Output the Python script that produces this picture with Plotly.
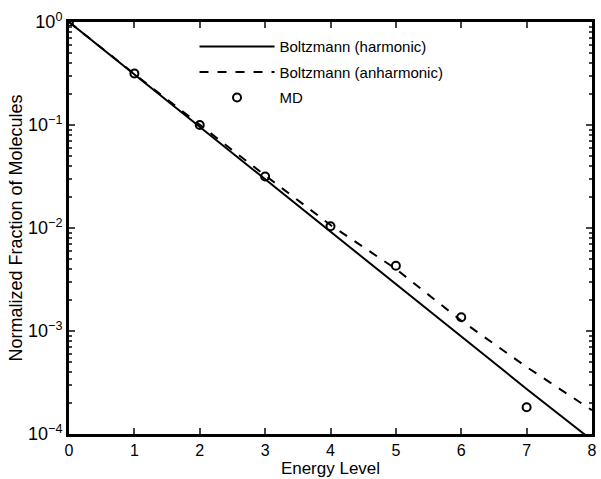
import plotly.graph_objects as go

energy = [0, 1, 2, 3, 4, 5, 6, 7, 8]
harmonic = [1.0, 0.31, 0.096, 0.0298, 0.0092, 0.00286, 0.00088, 0.000274, 8.7e-5]
anharmonic = [1.0, 0.3126, 0.1005, 0.0324, 0.0107, 0.0040, 0.00126, 0.000447, 0.00017]
md_x = [0, 1, 2, 3, 4, 5, 6, 7]
md_y = [1.0, 0.316, 0.1, 0.0316, 0.0104, 0.0043, 0.00136, 0.000182]
ytick_vals = [1e-4, 1e-3, 1e-2, 1e-1, 1]
ytick_text = ["10<sup>−4</sup>", "10<sup>−3</sup>", "10<sup>−2</sup>", "10<sup>−1</sup>", "10<sup>0</sup>"]

fig = go.Figure()
fig.add_trace(go.Scatter(x=energy, y=harmonic, mode="lines", name="Boltzmann (harmonic)",
                         legendgroup="a", line=dict(color="black", width=2)))
fig.add_trace(go.Scatter(x=energy, y=anharmonic, mode="lines", name="Boltzmann (anharmonic)",
                         legendgroup="b", line=dict(color="black", width=2, dash="dash")))
fig.add_trace(go.Scatter(x=md_x, y=md_y, mode="markers", name="MD", legendgroup="c",
                         marker=dict(symbol="circle-open", size=8, color="black", line=dict(width=2))))

font = dict(family="Liberation Sans, Arial, sans-serif", size=15, color="black")
fig.update_layout(
    width=601, height=479,
    margin=dict(l=69, r=4, t=22, b=41),
    paper_bgcolor="white", plot_bgcolor="white",
    font=font,
    showlegend=True,
    legend=dict(x=0.24, y=0.98, xanchor="left", yanchor="top", bgcolor="rgba(0,0,0,0)",
                font=dict(size=15), itemwidth=75, tracegroupgap=3),
    xaxis=dict(range=[0, 8], tickvals=energy, ticks="inside", ticklen=6, tickwidth=2,
               tickfont=dict(size=16),
               showline=True, linewidth=3, linecolor="black", mirror="ticks",
               showgrid=False, zeroline=False,
               title=dict(text="Energy Level", standoff=4, font=dict(size=17))),
    yaxis=dict(type="log", range=[-4, 0], tickvals=ytick_vals, ticktext=ytick_text,
               ticks="inside", ticklen=6, tickwidth=2, tickfont=dict(size=18),
               showline=True, linewidth=3, linecolor="black", mirror="ticks",
               showgrid=False, zeroline=False,
               minor=dict(ticks="inside", ticklen=3, tickwidth=1.5, dtick="D1", showgrid=False),
               title=dict(text="Normalized Fraction of Molecules", standoff=1, font=dict(size=18))),
)
fig.write_html("out.html")
